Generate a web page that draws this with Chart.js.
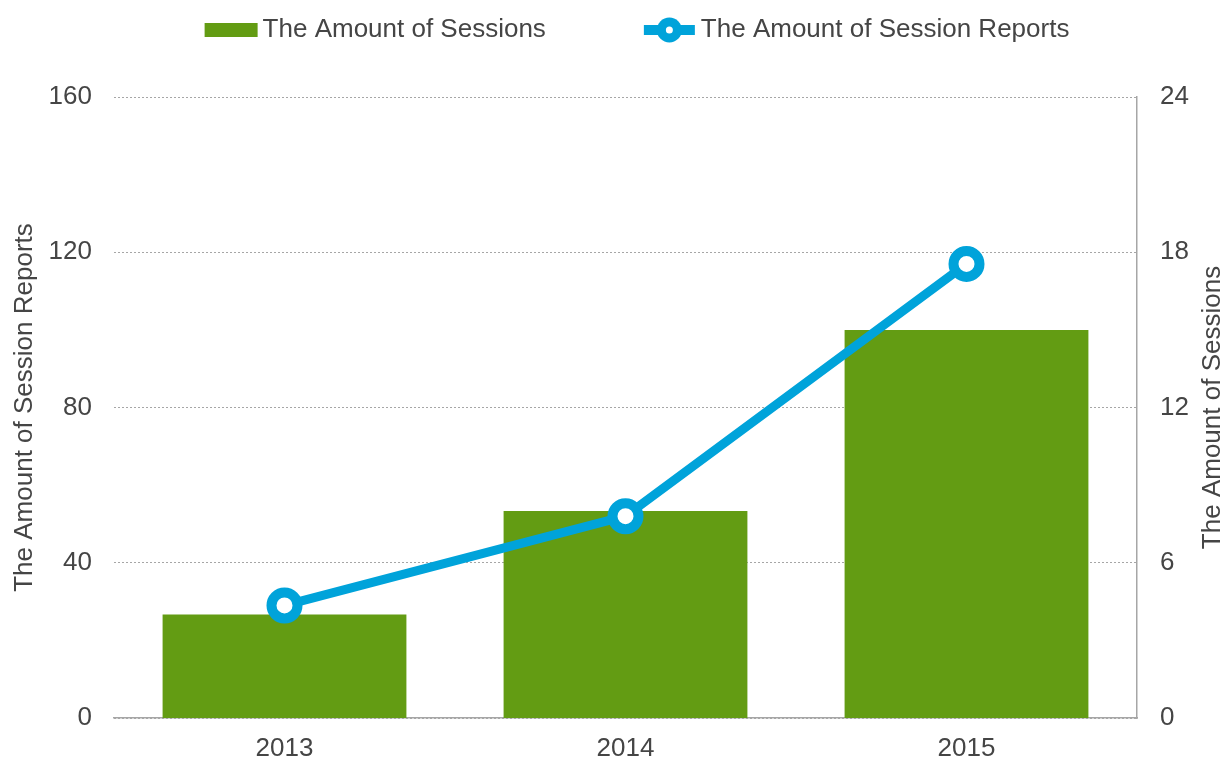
<!DOCTYPE html>
<html>
<head>
<meta charset="utf-8">
<script src="https://cdn.jsdelivr.net/npm/chart.js@4/dist/chart.umd.min.js"></script>
<style>
  html, body { margin: 0; padding: 0; background: #ffffff; }
  #wrap { width: 1229px; height: 760px; position: relative; }
</style>
</head>
<body>
<div id="wrap"><canvas id="chart"></canvas></div>
<script>
// chart data
const years = ['2013', '2014', '2015'];
const sessions = [4, 8, 15];              // bars, right axis
const sessionReports = [29, 52, 117];     // line, left axis
const reportsAxis = { max: 160, step: 40 };
const sessionsAxis = { max: 24, step: 6 };
const barLabel = 'The Amount of Sessions';
const lineLabel = 'The Amount of Session Reports';

const GREEN = '#639c13';
const BLUE = '#00a3da';
const TEXT = '#454545';
const GRID = '#a6a6a6';
const FONT_FAMILY = '"Liberation Sans", Arial, sans-serif';
const FONT_SIZE = 26;

/**
 * Legend across the top plus the right axis title (reads bottom to top)
 */
const extrasPlugin = {
    id: 'extras',
    afterDraw(chart) {
        const ctx = chart.ctx;
        const area = chart.chartArea;
        ctx.save();
        ctx.font = FONT_SIZE + 'px ' + FONT_FAMILY;
        ctx.fillStyle = TEXT;
        ctx.textBaseline = 'middle';
        ctx.textAlign = 'left';

        // legend
        const y = 30;
        const w1 = ctx.measureText(barLabel).width;
        const w2 = ctx.measureText(lineLabel).width;
        const total = 53 + 5 + w1 + 98 + 51 + 6 + w2;
        let x = 637 - total / 2;

        ctx.fillStyle = GREEN;
        ctx.fillRect(x, y - 7, 53, 14);
        x += 53 + 5;
        ctx.fillStyle = TEXT;
        ctx.fillText(barLabel, x, y);
        x += w1 + 98;

        ctx.strokeStyle = BLUE;
        ctx.lineWidth = 10;
        ctx.beginPath();
        ctx.moveTo(x, y);
        ctx.lineTo(x + 51, y);
        ctx.stroke();
        ctx.fillStyle = BLUE;
        ctx.beginPath();
        ctx.arc(x + 25.5, y, 12.5, 0, Math.PI * 2);
        ctx.fill();
        ctx.fillStyle = '#ffffff';
        ctx.beginPath();
        ctx.arc(x + 25.5, y, 3.5, 0, Math.PI * 2);
        ctx.fill();
        x += 51 + 6;
        ctx.fillStyle = TEXT;
        ctx.fillText(lineLabel, x, y);

        // right axis title
        ctx.translate(1213, (area.top + area.bottom) / 2);
        ctx.rotate(-Math.PI / 2);
        ctx.textAlign = 'center';
        ctx.fillText(barLabel, 0, 0);
        ctx.restore();
    }
};

function buildChart() {
    const ctx = document.getElementById('chart').getContext('2d');
    const font = { family: FONT_FAMILY, size: FONT_SIZE };

    return new Chart(ctx, {
        type: 'bar',
        data: {
            labels: years,
            datasets: [{
                type: 'line',
                label: lineLabel,
                data: sessionReports,
                yAxisID: 'y',
                borderColor: BLUE,
                borderWidth: 9,
                pointRadius: 13,
                pointBorderWidth: 10,
                pointBackgroundColor: '#ffffff',
                pointBorderColor: BLUE,
                tension: 0,
                order: 1
            }, {
                type: 'bar',
                label: barLabel,
                data: sessions,
                yAxisID: 'y2',
                backgroundColor: GREEN,
                borderWidth: 0,
                barPercentage: 0.715,
                categoryPercentage: 1,
                order: 2
            }]
        },
        options: {
            responsive: true,
            maintainAspectRatio: false,
            animation: false,
            layout: { padding: { top: 97, bottom: 0, left: 0, right: 0 } },
            plugins: {
                legend: { display: false },
                tooltip: { enabled: false }
            },
            scales: {
                x: {
                    grid: { display: false, drawTicks: false },
                    border: { display: true, color: GRID, width: 1.5 },
                    ticks: { font: font, color: TEXT, padding: 15 },
                    afterFit(scale) { scale.height = 42; }
                },
                y: {
                    position: 'left',
                    min: 0,
                    max: reportsAxis.max,
                    ticks: { stepSize: reportsAxis.step, font: font, color: TEXT, padding: 22 },
                    grid: { color: GRID, lineWidth: 1, drawTicks: false },
                    border: { display: false, dash: [2, 2] },
                    title: { display: true, text: lineLabel, font: font, color: TEXT, padding: { top: 9, bottom: 0 } },
                    afterFit(scale) { scale.width = 114; }
                },
                y2: {
                    position: 'right',
                    min: 0,
                    max: sessionsAxis.max,
                    ticks: { stepSize: sessionsAxis.step, font: font, color: TEXT, padding: 23 },
                    grid: { display: false, drawTicks: false },
                    border: { display: true, color: GRID, width: 1.5 },
                    afterFit(scale) { scale.width = 92; }
                }
            }
        },
        plugins: [extrasPlugin]
    });
}

buildChart();
</script>
</body>
</html>
